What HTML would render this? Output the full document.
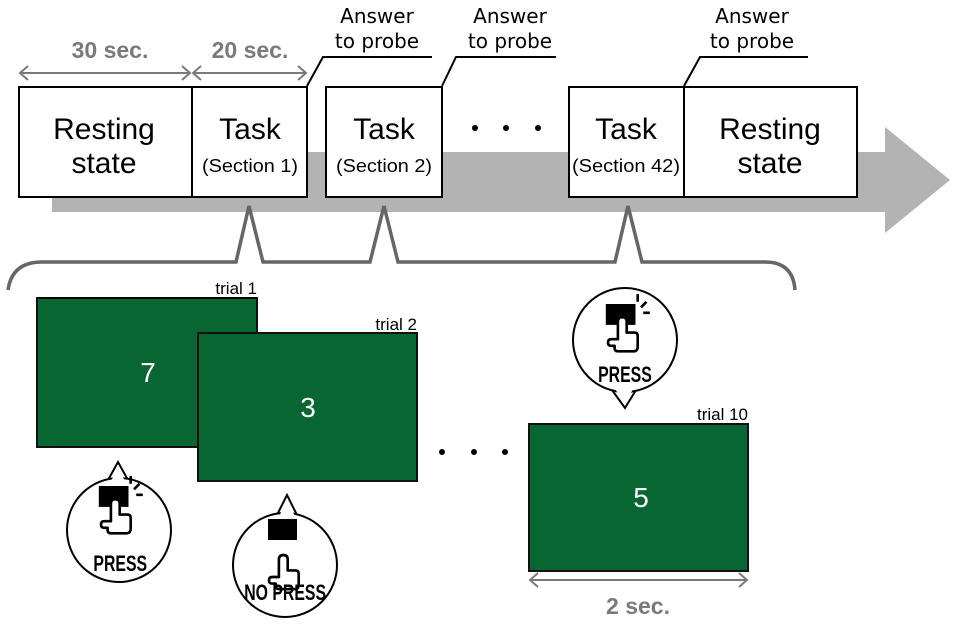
<!DOCTYPE html>
<html><head><meta charset="utf-8"><style>html,body{margin:0;padding:0;background:#fff}svg{display:block}</style></head><body>
<svg width="957" height="624" viewBox="0 0 957 624" xmlns="http://www.w3.org/2000/svg" font-family="Liberation Sans, sans-serif">
<defs>
<g id="hand">
<path d="M9,14 Q9,10 13,10 Q17,10 17,14 L17,24 L24,24 Q27,24 27,27 L27,37 Q27,41 23,41 L9,41 Q6,41 6,38 L6,36 L3,36 Q0,36 0,33 Q0,30 3,30 L9,30 Z" fill="#fff" stroke="#000" stroke-width="2.4" stroke-linejoin="round"/>
</g>
<g id="press">
<rect x="-2" y="0" width="27" height="19" fill="#000"/>
<use href="#hand" x="0" y="2"/>
<path d="M27,-9 L27,-2 M30,3 L35,-2 M32,8 L38,8" stroke="#000" stroke-width="2.4"/>
</g>
</defs>
<polygon points="52,152 885,152 885,127 950,180 885,233 885,212 52,212" fill="#b3b3b3"/>
<g stroke="#7a7a7a" stroke-width="2" fill="none">
<path d="M20,73 L190,73 M28,66 L20,73 L28,80 M182,66 L190,73 L182,80"/>
<path d="M193,73 L306,73 M201,66 L193,73 L201,80 M298,66 L306,73 L298,80"/>
<path d="M530,580 L747,580 M538,573 L530,580 L538,587 M739,573 L747,580 L739,587"/>
</g>
<g fill="#7a7a7a" font-weight="bold" font-size="23" text-anchor="middle">
<text x="110" y="58">30 sec.</text>
<text x="250" y="58">20 sec.</text>
<text x="638" y="614">2 sec.</text>
</g>
<g fill="#fff" stroke="#000" stroke-width="2">
<rect x="19" y="87" width="288" height="110"/>
<line x1="192" y1="87" x2="192" y2="197"/>
<rect x="326" y="87" width="116" height="110"/>
<rect x="569" y="87" width="288" height="110"/>
<line x1="684" y1="87" x2="684" y2="197"/>
</g>
<g font-size="30" text-anchor="middle" fill="#000">
<text x="104" y="139">Resting</text><text x="104" y="173">state</text>
<text x="250" y="139">Task</text>
<text x="384" y="139">Task</text>
<text x="626" y="139">Task</text>
<text x="770" y="139">Resting</text><text x="770" y="173">state</text>
</g>
<g font-size="18" text-anchor="middle" fill="#000">
<text x="250" y="172" textLength="96" lengthAdjust="spacingAndGlyphs">(Section 1)</text>
<text x="384" y="172" textLength="96" lengthAdjust="spacingAndGlyphs">(Section 2)</text>
<text x="626" y="172" textLength="108" lengthAdjust="spacingAndGlyphs">(Section 42)</text>
</g>
<g fill="#000"><circle cx="475" cy="128" r="3"/><circle cx="506" cy="128" r="3"/><circle cx="538" cy="128" r="3"/>
<circle cx="442" cy="452" r="3"/><circle cx="474" cy="452" r="3"/><circle cx="505" cy="452" r="3"/></g>
<g stroke="#000" stroke-width="2" fill="none">
<path d="M307,86 L323,57 L432,57"/>
<path d="M442,86 L456,57 L556,57"/>
<path d="M684,86 L700,57 L808,57"/>
</g>
<g font-family="DejaVu Sans, sans-serif" font-size="20" text-anchor="middle" fill="#000">
<text x="377" y="23">Answer</text><text x="377" y="48">to probe</text>
<text x="510" y="23">Answer</text><text x="510" y="48">to probe</text>
<text x="752" y="23">Answer</text><text x="752" y="48">to probe</text>
</g>
<path d="M8,290 Q12,262 42,262 L236,262 L249,206 L263,262 L370,262 L384,206 L398,262 L615,262 L628,206 L642,262 L765,262 Q793,262 795,290" fill="none" stroke="#666" stroke-width="3.5"/>
<g fill="#086633" stroke="#111" stroke-width="2">
<rect x="37" y="298" width="220" height="149"/>
<rect x="198" y="333" width="219" height="148"/>
<rect x="529" y="424" width="219" height="147"/>
</g>
<line x1="36" y1="298" x2="257" y2="298" stroke="#000" stroke-width="2"/>
<g font-size="17" text-anchor="end" fill="#000">
<text x="257" y="294">trial 1</text><text x="417" y="330">trial 2</text><text x="748" y="420">trial 10</text>
</g>
<g font-size="28" text-anchor="middle" fill="#fff">
<text x="148" y="382">7</text><text x="308" y="417">3</text><text x="641" y="507">5</text>
</g>
<g fill="#fff" stroke="#000" stroke-width="2">
<path d="M108,480 L118,462 L128,480"/>
<circle cx="119" cy="530" r="52"/>
<path d="M111,481 L118,468 L125,481" stroke="none"/>
<path d="M277,515 L287,495 L297,515"/>
<circle cx="285" cy="565" r="52"/>
<path d="M279,516 L287,502 L295,516" stroke="none"/>
<path d="M612,390 L625,408 L636,390"/>
<circle cx="625" cy="340" r="52"/>
<path d="M614,388 L625,402 L634,388" stroke="none"/>
</g>
<use href="#press" transform="translate(101,486) scale(1.1)"/>
<use href="#press" transform="translate(608,304) scale(1.1)"/>
<rect x="268" y="519" width="29" height="21" fill="#000"/>
<use href="#hand" transform="translate(269,544) scale(1.1)"/>
<g font-weight="bold" font-size="22" text-anchor="middle" fill="#000" transform="scale(0.72,1)">
<text x="167" y="571">PRESS</text>
<text x="396" y="600">NO PRESS</text>
<text x="868" y="382">PRESS</text>
</g>
</svg>
</body></html>
